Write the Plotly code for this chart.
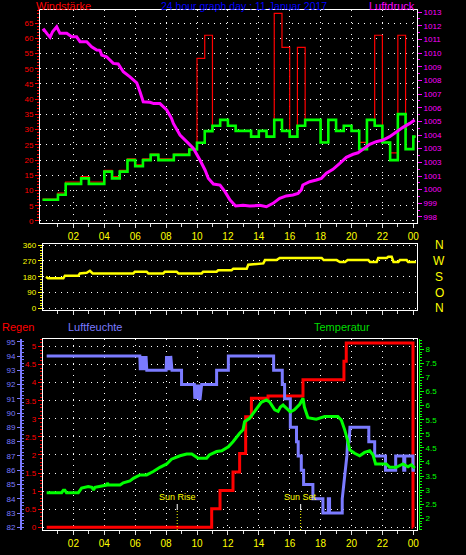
import plotly.graph_objects as go

# ---------------- data ----------------
hour_ticks = [2, 4, 6, 8, 10, 12, 14, 16, 18, 20, 22, 24]
hour_labels = ["02", "04", "06", "08", "10", "12", "14", "16", "18", "20", "22", "00"]

wind_t = [0, 1.0, 1.5, 2.5, 3.0, 4.0, 4.5, 5.0, 5.5, 6.0,
          6.5, 7.0, 7.5, 8.5, 9.5, 10.0, 10.5, 11.0, 11.5, 12.0,
          12.5, 13.5, 14.0, 14.5, 15.0, 15.5, 16.0, 16.5, 17.0, 18.0,
          18.5, 19.0, 19.5, 20.0, 20.5, 21.0, 21.5, 22.0, 22.5, 23.0,
          23.5, 24.0, 24.15]
wind_avg = [7, 8.6, 12.2, 14, 12.2, 16.2, 14, 16.2, 20, 18,
            20, 21.7, 20, 21.7, 23.5, 25.7, 29.5, 31.3, 33.2, 31.3,
            29.6, 27.7, 29.6, 27.7, 33.2, 29.6, 27.7, 31.3, 33.2, 25.8,
            33.2, 29.6, 31.3, 29.6, 23.6, 33.2, 31.3, 25.8, 20.0, 35.1,
            23.6, 27.7, 27.7]
wind_gust = [7.2, 9.2, 12.8, 14.6, 12.8, 16.6, 14.6, 16.6, 20.4, 18.4,
             20.4, 22, 20.4, 22, 23.8, 53.4, 61, 31.3, 33.2, 31.3,
             29.6, 27.7, 29.6, 27.7, 68.2, 57, 27.7, 57, 33.2, 25.8,
             33.2, 29.6, 31.3, 29.6, 25.8, 33.2, 61, 25.8, 22.4, 61,
             23.6, 27.7, 27.7]

pressure_t = [0.0, 0.1, 0.3, 0.49, 0.65, 0.92, 1.13, 1.57, 1.89, 2.21,
              2.43, 2.86, 3.18, 3.51, 3.72, 3.83, 4.15, 4.58, 4.9, 5.23,
              5.66, 6.1, 6.31, 6.52, 6.96, 7.2, 7.6, 8.04, 8.35, 8.47,
              8.9, 9.33, 9.76, 10.19, 10.52, 10.73, 11.06, 11.49, 11.81, 12.14,
              12.33, 12.5, 12.98, 13.41, 14.06, 14.49, 14.92, 15.35, 15.78, 16.21,
              16.54, 16.75, 16.85, 17.29, 17.72, 18.05, 18.37, 18.8, 19.24, 19.66,
              20.1, 20.42, 20.74, 21.18, 21.6, 22.04, 22.47, 22.9, 23.33, 23.77,
              24.09]
pressure_hpa = [1011.63, 1011.7, 1011.4, 1011.15, 1011.56, 1011.92, 1011.44, 1011.44, 1011.19, 1011.19,
                1010.83, 1010.83, 1010.46, 1010.22, 1010.2, 1009.85, 1009.73, 1009.24, 1009.2, 1008.63,
                1008.26, 1007.82, 1007.17, 1006.43, 1006.4, 1006.3, 1006.3, 1005.83, 1005.22, 1004.85,
                1004.0, 1003.51, 1003.03, 1002.17, 1001.44, 1000.83, 1000.41, 1000.34, 999.85, 999.24,
                999.0, 998.8, 998.85, 998.8, 998.85, 998.75, 999.0, 999.37, 999.54, 999.61,
                999.73, 999.98, 1000.34, 1000.58, 1000.71, 1000.83, 1001.2, 1001.49, 1001.93, 1002.37,
                1002.59, 1002.7, 1002.95, 1003.32, 1003.51, 1003.63, 1003.88, 1004.24, 1004.56, 1004.85,
                1005.1]
pressure_tickvals = [998, 999, 1000, 1001, 1002, 1003, 1004, 1005, 1006, 1007, 1008, 1009, 1010, 1011, 1012, 1013]
pressure_ticktext = ["998", "999", "1000", "1001", "1003", "1003", "1004", "1005", "1006", "1007",
                     "1008", "1009", "1010", "1011", "1012", "1013"]

dir_t = [0.23, 0.35, 1.35, 1.45, 2.32, 2.42, 2.86, 3.07, 3.25,
         5.88, 5.98, 6.74, 6.85, 7.82, 7.92, 8.68, 8.8,
         10.3, 10.4, 11.27, 11.37, 12.24, 12.35, 13.22, 13.32,
         13.85, 14.29, 14.4, 15.15, 15.35,
         18.07, 18.2, 19.04, 19.25, 19.58, 19.75,
         21.09, 21.2, 21.63, 21.73, 22.28, 22.38, 22.6, 22.72,
         23.03, 23.13, 23.57, 23.67, 24.17]
dir_deg = [180, 171, 171, 186, 186, 199, 203, 214, 199,
           199, 209, 209, 199, 199, 209, 209, 199,
           199, 209, 209, 217, 217, 226, 226, 249,
           252, 256, 275, 275, 287,
           287, 275, 275, 264, 264, 275,
           275, 264, 264, 287, 287, 294, 294, 264,
           264, 275, 275, 264, 264]
dir_tickvals = [0, 90, 180, 270, 360]
compass_labels = ["N", "O", "S", "W", "N"]

rain_t = [0.27, 10.95, 11.49, 12.33, 12.76, 13.15, 13.52, 14.6, 16.86, 19.51, 19.66, 23.98, 24.0]
rain_mm = [0, 0.51, 1.02, 1.53, 2.04, 3.06, 3.57, 3.63, 4.08, 4.59, 5.1, 0, 0]
rain_tickvals = [0, 0.5, 1, 1.5, 2, 2.5, 3, 3.5, 4, 4.5, 5]
rain_ticktext = ["0", "0.5", "1", "1.5", "2", "2.5", "3", "3.5", "4", "4.5", "5"]

hum_t = [0.27, 6.3, 6.33, 6.36, 6.4, 6.43, 6.47, 6.5, 6.55, 6.6,
         6.65, 6.7, 6.75, 8.0, 8.03, 8.07, 8.1, 8.15, 8.2, 8.25,
         8.3, 8.38, 9.0, 9.0, 9.83, 9.86, 9.9, 9.95, 10.0, 10.05,
         10.1, 10.15, 10.2, 10.3, 11.27, 11.27, 12.03, 12.03, 14.96, 14.96,
         15.52, 15.52, 15.67, 15.67, 16.04, 16.04, 16.44, 16.44, 16.55, 16.55,
         16.75, 16.75, 16.9, 16.9, 17.5, 17.5, 18.15, 18.15, 18.5, 18.5,
         18.58, 18.58, 19.4, 19.4, 19.5, 19.6, 19.7, 19.75, 19.85, 19.9,
         21.12, 21.12, 21.5, 21.5, 22.2, 22.2, 22.86, 22.86, 23.38, 23.38,
         23.45, 23.45, 23.98, 23.98, 24.1]
hum_pct = [94, 94, 93, 94, 93, 94, 93, 94, 93, 94,
           93, 94, 93, 93, 94, 93, 94, 93, 94, 93,
           94, 93, 93, 92, 92, 91, 92, 91, 92, 91,
           92, 91, 91, 92, 92, 93, 93, 94, 94, 93,
           93, 92, 92, 91, 91, 89, 89, 88, 88, 87,
           87, 86, 86, 85, 85, 84, 84, 83, 83, 84,
           84, 83, 83, 84, 85, 86, 87, 88, 88, 89,
           89, 88, 88, 87, 87, 86, 86, 87, 87, 86,
           86, 87, 87, 86, 86]
hum_tickvals = list(range(82, 96))

temp_t = [0.27, 1.24, 1.35, 1.45, 1.55, 1.66, 2.32, 2.53, 2.96, 3.2,
          3.3, 3.4, 3.72, 4.15, 4.2, 4.3, 5.02, 5.23, 5.66, 5.88,
          6.31, 6.74, 7.17, 7.6, 8.04, 8.35, 8.9, 9.33, 9.66, 9.85,
          10.08, 10.62, 10.8, 11.27, 11.6, 12.03, 12.33, 12.76, 12.98, 13.08,
          13.4, 13.84, 14.16, 14.49, 14.7, 15.03, 15.25, 15.4, 15.57, 15.8,
          16.04, 16.3, 16.65, 16.86, 16.95, 17.18, 17.72, 18.26, 18.8, 19.12,
          19.34, 19.56, 19.77, 19.88, 20.2, 20.53, 20.85, 21.18, 21.39, 21.56,
          22.25, 22.47, 22.9, 23.12, 23.33, 23.66, 23.87, 24.09]
temp_c = [2.91, 2.91, 3.0, 3.0, 2.91, 2.91, 2.91, 3.07, 3.13, 3.1,
          3.0, 3.1, 3.14, 3.18, 3.25, 3.18, 3.18, 3.26, 3.33, 3.42,
          3.54, 3.54, 3.66, 3.81, 3.93, 4.1, 4.22, 4.28, 4.28, 4.2,
          4.13, 4.13, 4.25, 4.37, 4.4, 4.54, 4.72, 5.02, 5.14, 5.43,
          5.55, 5.88, 6.12, 6.2, 6.13, 5.85, 5.8, 5.95, 6.02, 5.9,
          5.78, 5.85, 6.05, 6.26, 5.95, 5.57, 5.52, 5.61, 5.61, 5.61,
          5.49, 5.14, 4.72, 4.43, 4.31, 4.22, 4.34, 4.4, 4.25, 3.93,
          3.93, 3.81, 3.81, 3.86, 3.93, 3.83, 3.9, 3.78]
temp_tickvals = [2, 2.5, 3, 3.5, 4, 4.5, 5, 5.5, 6, 6.5, 7, 7.5, 8]
temp_ticktext = ["2", "2.5", "3", "3.5", "4", "4.5", "5", "5.5", "6", "6.5", "7", "7.5", "8"]

sun_event_names = ["Sun Rise", "Sun Set"]
sun_event_hours = [8.72, 16.71]

# ---------------- geometry helpers ----------------
W, H = 466, 555
def px(x): return x / W
def py(y): return 1 - y / H
H0, PXH = 42.5, 15.45
def hx(p): return (p - H0) / PXH

FONT = "Liberation Sans, Arial, sans-serif"
RED, GREEN, MAG, YEL, BLUE, HUM = "#ff0000", "#00ff00", "#ff00ff", "#ffff00", "#0000ff", "#7b7bff"
DOT = "1px,5px"
minor_hours = [h + 1 for h in range(0, 24, 2)]

fig = go.Figure()

# top panel
fig.add_trace(go.Scatter(x=wind_t, y=wind_gust, mode="lines", line=dict(color=RED, width=1.2, shape="hv"),
                         xaxis="x", yaxis="y"))
fig.add_trace(go.Scatter(x=wind_t, y=wind_avg, mode="lines", line=dict(color=GREEN, width=2.6, shape="hv"),
                         xaxis="x", yaxis="y"))
fig.add_trace(go.Scatter(x=pressure_t, y=pressure_hpa, mode="lines", line=dict(color=MAG, width=3),
                         xaxis="x", yaxis="y2"))
# direction panel
fig.add_trace(go.Scatter(x=dir_t, y=dir_deg, mode="lines", line=dict(color=YEL, width=2.5),
                         xaxis="x2", yaxis="y3"))
# bottom panel
fig.add_trace(go.Scatter(x=rain_t, y=rain_mm, mode="lines", line=dict(color=RED, width=3, shape="hv"),
                         xaxis="x3", yaxis="y4"))
fig.add_trace(go.Scatter(x=hum_t, y=hum_pct, mode="lines", line=dict(color=HUM, width=3),
                         xaxis="x3", yaxis="y5"))
fig.add_trace(go.Scatter(x=temp_t, y=temp_c, mode="lines", line=dict(color=GREEN, width=3),
                         xaxis="x3", yaxis="y6"))

def xaxis(l, r, anchor, labels=True, grid=True):
    return dict(domain=[px(l), px(r)], range=[hx(l), hx(r)], anchor=anchor,
                tickmode="array", tickvals=hour_ticks, ticktext=hour_labels,
                showticklabels=labels, tickfont=dict(color=YEL, size=10, family=FONT),
                ticks="outside", ticklen=4, tickcolor="#dddddd",
                minor=dict(tickmode="array", tickvals=minor_hours, ticks="outside", ticklen=3, tickcolor="#dddddd"),
                showline=True, linecolor="#ffffff", linewidth=1, mirror=True,
                showgrid=grid, gridcolor="#ffffff", gridwidth=1, griddash=DOT,
                zeroline=False, automargin=False, fixedrange=True)

fig.update_layout(
    width=W, height=H, margin=dict(l=0, r=0, t=0, b=0),
    paper_bgcolor="#000000", plot_bgcolor="#000000", template="none", showlegend=False,
    font=dict(family=FONT),
    xaxis=xaxis(40, 417, "y"),
    xaxis2=xaxis(42.7, 416.7, "y3", labels=False, grid=False),
    xaxis3=xaxis(42.7, 417.3, "y4"),
    yaxis=dict(domain=[py(223), py(10)], range=[-0.66, 69.3], anchor="x",
               tickmode="array", tickvals=list(range(0, 70, 5)),
               tickfont=dict(color=RED, size=8, family=FONT), ticks="outside", ticklen=4, tickcolor=RED,
               minor=dict(dtick=1, ticks="outside", ticklen=2, tickcolor=RED),
               showline=True, linecolor="#ffffff", mirror=True,
               showgrid=True, gridcolor="#ffffff", griddash=DOT, zeroline=False, automargin=False),
    yaxis2=dict(overlaying="y", side="right", anchor="x", range=[997.56, 1013.15],
                tickmode="array", tickvals=pressure_tickvals, ticktext=pressure_ticktext,
                tickfont=dict(color=MAG, size=8, family=FONT), ticks="outside", ticklen=4, tickcolor=MAG,
                minor=dict(dtick=0.5, ticks="outside", ticklen=2, tickcolor=MAG),
                showline=False, showgrid=False, zeroline=False, automargin=False),
    yaxis3=dict(domain=[py(310), py(243.5)], range=[-9.7, 369.7], anchor="x2",
                tickmode="array", tickvals=dir_tickvals,
                tickfont=dict(color=YEL, size=8, family=FONT), ticks="outside", ticklen=4, tickcolor=YEL,
                minor=dict(dtick=15, ticks="outside", ticklen=2, tickcolor=YEL),
                showline=True, linecolor="#ffffff", mirror=True,
                showgrid=True, gridcolor="#ffffff", griddash=DOT, zeroline=False, automargin=False),
    yaxis4=dict(domain=[py(530), py(339.3)], range=[-0.075, 5.2], anchor="x3",
                tickmode="array", tickvals=rain_tickvals, ticktext=rain_ticktext,
                tickfont=dict(color=RED, size=8, family=FONT), ticks="outside", ticklen=4, tickcolor=RED,
                minor=dict(dtick=0.1, ticks="outside", ticklen=2, tickcolor=RED),
                showline=True, linecolor="#ffffff", mirror=True,
                showgrid=True, gridcolor="#ffffff", griddash=DOT, zeroline=False, automargin=False),
    yaxis5=dict(overlaying="y4", anchor="free", position=px(21), side="left", range=[81.81, 95.17],
                tickmode="array", tickvals=hum_tickvals,
                tickfont=dict(color=HUM, size=8, family=FONT), ticks="outside", ticklen=3, tickcolor=HUM,
                minor=dict(dtick=0.25, ticks="inside", ticklen=2, tickcolor=HUM),
                showline=True, linecolor=HUM, linewidth=2,
                showgrid=False, zeroline=False, automargin=False),
    yaxis6=dict(overlaying="y4", anchor="free", position=px(419), side="right", range=[1.585, 8.355],
                tickmode="array", tickvals=temp_tickvals, ticktext=temp_ticktext,
                tickfont=dict(color=GREEN, size=8, family=FONT), ticks="outside", ticklen=4, tickcolor=GREEN,
                minor=dict(dtick=0.1, ticks="outside", ticklen=2, tickcolor=GREEN),
                showline=True, linecolor=GREEN, linewidth=1,
                showgrid=False, zeroline=False, automargin=False),
)

def label(text, x, y, color, size=11, xanchor="left"):
    fig.add_annotation(text=text, x=px(x), y=py(y), xref="paper", yref="paper",
                       xanchor=xanchor, yanchor="middle", showarrow=False,
                       font=dict(color=color, size=size, family=FONT))

label("Windstärke", 34, 6, RED)
label("24 hour graph day : 11 Januar 2017", 244, 6, BLUE, size=10.5, xanchor="center")
label("Luftdruck", 417, 6, MAG, xanchor="right")
label("Regen", 0, 327, RED)
label("Luftfeuchte", 66, 327, HUM)
label("Temperatur", 312, 327, "#00dd00")

for v, t in zip(dir_tickvals[::-1], compass_labels[::-1]):
    fig.add_annotation(text=t, x=px(439), y=v, xref="paper", yref="y3", xanchor="center", yanchor="middle",
                       showarrow=False, font=dict(color=YEL, size=12, family=FONT))

for name, h in zip(sun_event_names, sun_event_hours):
    fig.add_annotation(text=name, x=h, y=py(497.5), xref="x3", yref="paper", xanchor="center", yanchor="middle",
                       showarrow=False, font=dict(color=YEL, size=9, family=FONT))
    fig.add_shape(type="line", xref="x3", yref="paper", x0=h, x1=h, y0=py(510), y1=py(504),
                  line=dict(color="#ffffff", width=1))
    fig.add_shape(type="line", xref="x3", yref="paper", x0=h, x1=h, y0=py(530), y1=py(510),
                  line=dict(color=YEL, width=1, dash="1px,2px"))

page_fix = ("document.documentElement.style.background='#000';"
            "document.body.style.margin='0';document.body.style.background='#000';"
            "document.body.style.overflow='hidden';")
fig.write_html("out.html", config={"displayModeBar": False}, post_script=page_fix)
